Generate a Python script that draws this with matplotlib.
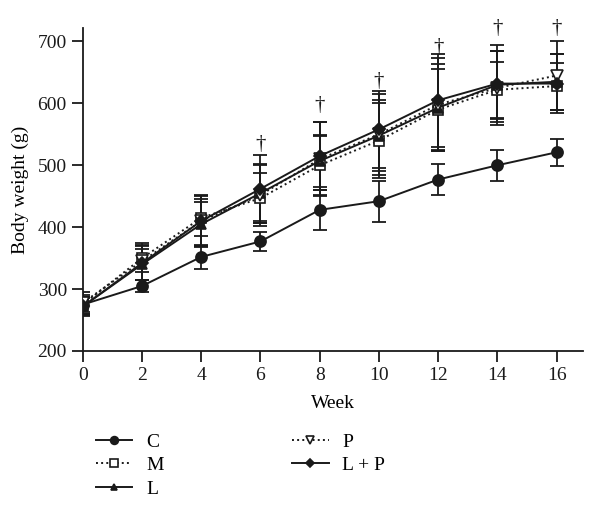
import matplotlib
matplotlib.use("Agg")
import matplotlib.pyplot as plt
import numpy as np

plt.rcParams['font.family'] = ['Liberation Serif', 'DejaVu Serif']

weeks = [0, 2, 4, 6, 8, 10, 12, 14, 16]
C = [275, 305, 352, 377, 428, 442, 477, 500, 521]
C_err = [12, 10, 20, 15, 32, 33, 25, 25, 22]
M = [275, 350, 415, 447, 500, 540, 590, 622, 628]
M_err = [15, 22, 30, 40, 48, 60, 65, 45, 38]
L = [272, 340, 405, 455, 507, 548, 593, 630, 635]
L_err = [14, 25, 35, 45, 42, 58, 70, 55, 45]
P = [278, 345, 410, 452, 510, 550, 598, 625, 645]
P_err = [18, 30, 40, 50, 60, 65, 75, 60, 55]
LP = [272, 342, 410, 462, 515, 558, 605, 632, 632]
LP_err = [16, 28, 42, 55, 55, 62, 75, 62, 48]
dagger_weeks = [6, 8, 10, 12, 14, 16]
dagger_vals = [518, 582, 620, 675, 705, 706]

fig = plt.figure(figsize=(6, 5.22), dpi=100)
ax = fig.add_axes([0.138, 0.3276, 0.834, 0.619])

series = [
    ("C", C, C_err, dict(marker='o', ms=8, mfc='#1a1a1a', mec='#1a1a1a', ls='-')),
    ("M", M, M_err, dict(marker='s', ms=7.5, mfc='white', mec='#1a1a1a', ls=':')),
    ("L", L, L_err, dict(marker='^', ms=7, mfc='#1a1a1a', mec='#1a1a1a', ls='-')),
    ("P", P, P_err, dict(marker='v', ms=8, mfc='white', mec='#1a1a1a', ls=':')),
    ("L + P", LP, LP_err, dict(marker='D', ms=6, mfc='#1a1a1a', mec='#1a1a1a', ls='-')),
]
handles = {}
for name, vals, err, st in series:
    ax.errorbar(weeks, vals, yerr=err, color='#1a1a1a', ecolor='#1a1a1a',
                capsize=5, elinewidth=1.3, capthick=1.3, lw=0, marker='none', zorder=2)
    h, = ax.plot(weeks, vals, color='#1a1a1a', lw=1.4, mew=1.2, zorder=3, **st)
    handles[name] = h

for w, v in zip(dagger_weeks, dagger_vals):
    ax.text(w, v, "†", ha='center', va='bottom', fontsize=15, color='#1a1a1a')

ax.set_xlim(0, 16.9)
ax.set_ylim(200, 722)
ax.set_xticks(weeks)
ax.set_yticks([200, 300, 400, 500, 600, 700])
ax.spines['top'].set_visible(False)
ax.spines['right'].set_visible(False)
for s in ['left', 'bottom']:
    ax.spines[s].set_linewidth(1.3)
    ax.spines[s].set_color('#1a1a1a')
ax.tick_params(direction='out', length=8, width=1.3, labelsize=14, colors='#1a1a1a')
ax.set_xlabel("Week", fontsize=14, labelpad=8)
ax.set_ylabel("Body weight (g)", fontsize=14, labelpad=6)

order = ["C", "M", "L", "P", "L + P"]
leg = fig.legend([handles[k] for k in order], order, loc='upper left',
                 bbox_to_anchor=(0.13, 0.204), ncol=2, frameon=False, fontsize=14,
                 handlelength=1.9, columnspacing=6.6, labelspacing=0.3,
                 markerscale=0.7, handletextpad=0.7)
fig.savefig("out.png", dpi=100)
